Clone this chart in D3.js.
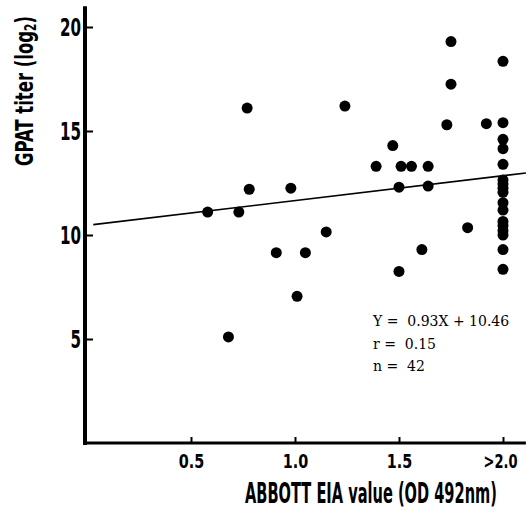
<!DOCTYPE html>
<meta charset="utf-8">
<style>
body { margin: 0; background: #fff; }
svg { display: block; }
.tick text, .title {
  font-family: "Liberation Sans Narrow", "DejaVu Sans Condensed", "Arial Narrow", sans-serif;
  font-weight: bold;
  fill: #000;
}
.stats {
  font-family: "DejaVu Serif", "Liberation Serif", serif;
  font-size: 14px;
  fill: #000;
}
</style>
<body>
<svg id="chart"></svg>
<script src="https://d3js.org/d3.v7.min.js"></script>
<script>

var width = 529,
    height = 514;

// ABBOTT EIA value (OD 492nm), >2.0 plotted at 2.0
var eia = [0.58, 0.68, 0.73, 0.77, 0.78, 0.91, 0.98, 1.01, 1.05, 1.15, 1.24,
           1.39, 1.47, 1.50, 1.50, 1.51, 1.56, 1.61, 1.64, 1.64, 1.73, 1.75,
           1.75, 1.83, 1.92,
           2.0, 2.0, 2.0, 2.0, 2.0, 2.0, 2.0, 2.0, 2.0, 2.0, 2.0, 2.0, 2.0,
           2.0, 2.0, 2.0, 2.0];
// GPAT titer (log2)
var gpat = [11.1, 5.1, 11.1, 16.1, 12.2, 9.15, 12.25, 7.05, 9.15, 10.15, 16.2,
            13.3, 14.3, 12.3, 8.25, 13.3, 13.3, 9.3, 13.3, 12.35, 15.3, 17.25,
            19.3, 10.35, 15.35,
            18.35, 15.4, 14.6, 14.15, 13.4, 12.65, 12.45, 12.25, 12.05, 11.55,
            11.2, 10.65, 10.45, 10.2, 10.0, 9.3, 8.35];

// regression line as drawn
var fitX = [0.03, 2.11];
var fitY = [10.5, 12.98];

var xTicks = [0.5, 1.0, 1.5, 2.0];
var xTickLabels = ["0.5", "1.0", "1.5", ">2.0"];
var yTicks = [5, 10, 15, 20];

var stats = ["Y =  0.93X + 10.46", "r =  0.15", "n =  42"];

var x = d3.scaleLinear().domain([0, 2]).range([87, 503]);
var y = d3.scaleLinear().domain([0, 20]).range([443, 27]);

var svg = d3.select("#chart")
    .attr("width", width)
    .attr("height", height);

svg.append("rect")
    .attr("width", width)
    .attr("height", height)
    .attr("fill", "#fff");

// squeeze a text horizontally to a target width (condensed typewriter look)
function squeeze(sel, target) {
  var w = sel.node().getComputedTextLength();
  return w > 0 ? target / w : 1;
}

// axis lines
svg.append("line")
    .attr("x1", 85).attr("x2", 85)
    .attr("y1", y(21)).attr("y2", y(0) + 2)
    .attr("stroke", "#000")
    .attr("stroke-width", 4);

svg.append("line")
    .attr("x1", 83).attr("x2", x(2.11))
    .attr("y1", y(0)).attr("y2", y(0))
    .attr("stroke", "#000")
    .attr("stroke-width", 3);

var yAxis = svg.append("g")
    .attr("transform", "translate(86,0)")
    .call(d3.axisLeft(y)
      .tickValues(yTicks)
      .tickSizeInner(-7)
      .tickSizeOuter(0)
      .tickPadding(5));
yAxis.select(".domain").remove();
yAxis.selectAll(".tick line").attr("stroke-width", 2);
yAxis.selectAll(".tick text")
    .attr("font-size", 24)
    .attr("dy", "0.36em")
    .each(function(d) {
      var t = d3.select(this);
      var k = squeeze(t, String(d).length * 10.5);
      t.attr("x", -5 / k).attr("transform", "scale(" + k + ",1)");
    });

var xAxis = svg.append("g")
    .attr("transform", "translate(0," + y(0) + ")")
    .call(d3.axisBottom(x)
      .tickValues(xTicks)
      .tickSizeInner(-6)
      .tickSizeOuter(0)
      .tickPadding(12)
      .tickFormat(function(d, i) { return xTickLabels[i]; }));
xAxis.select(".domain").remove();
xAxis.selectAll(".tick line").attr("stroke-width", 2);
xAxis.selectAll(".tick text")
    .attr("font-size", 19)
    .each(function(d, i) {
      var t = d3.select(this);
      var k = squeeze(t, xTickLabels[i].length * 8.5);
      var shift = i === xTicks.length - 1 ? -3 : 0;
      t.attr("x", shift / k).attr("transform", "scale(" + k + ",1)");
    });

// axis titles
var xt = svg.append("text")
    .attr("class", "title")
    .attr("text-anchor", "middle")
    .attr("font-size", 28)
    .text("ABBOTT EIA value (OD 492nm)");
xt.attr("transform", "translate(371,503) scale(" + squeeze(xt, 252) + ",1)");

var yt = svg.append("text")
    .attr("class", "title")
    .attr("text-anchor", "middle")
    .attr("font-size", 25);
yt.append("tspan").text("GPAT titer (log");
yt.append("tspan").attr("font-size", 16).attr("dy", 3).text("2");
yt.append("tspan").attr("dy", -3).text(")");
yt.attr("transform", "translate(33,91) rotate(-90) scale(" + squeeze(yt, 150) + ",1)");

// regression line
svg.append("line")
    .attr("x1", x(fitX[0])).attr("y1", y(fitY[0]))
    .attr("x2", x(fitX[1])).attr("y2", y(fitY[1]))
    .attr("stroke", "#000")
    .attr("stroke-width", 1.6);

// points
svg.append("g")
  .selectAll("circle")
  .data(d3.range(eia.length))
  .enter().append("circle")
    .attr("cx", function(i) { return x(eia[i]); })
    .attr("cy", function(i) { return y(gpat[i]); })
    .attr("r", 5.5)
    .attr("fill", "#000");

// statistics
svg.append("g")
  .selectAll("text")
  .data(stats)
  .enter().append("text")
    .attr("class", "stats")
    .attr("x", 373)
    .attr("y", function(d, i) { return 326 + i * 22.5; })
    .attr("xml:space", "preserve")
    .style("white-space", "pre")
    .text(function(d) { return d; });

</script>
